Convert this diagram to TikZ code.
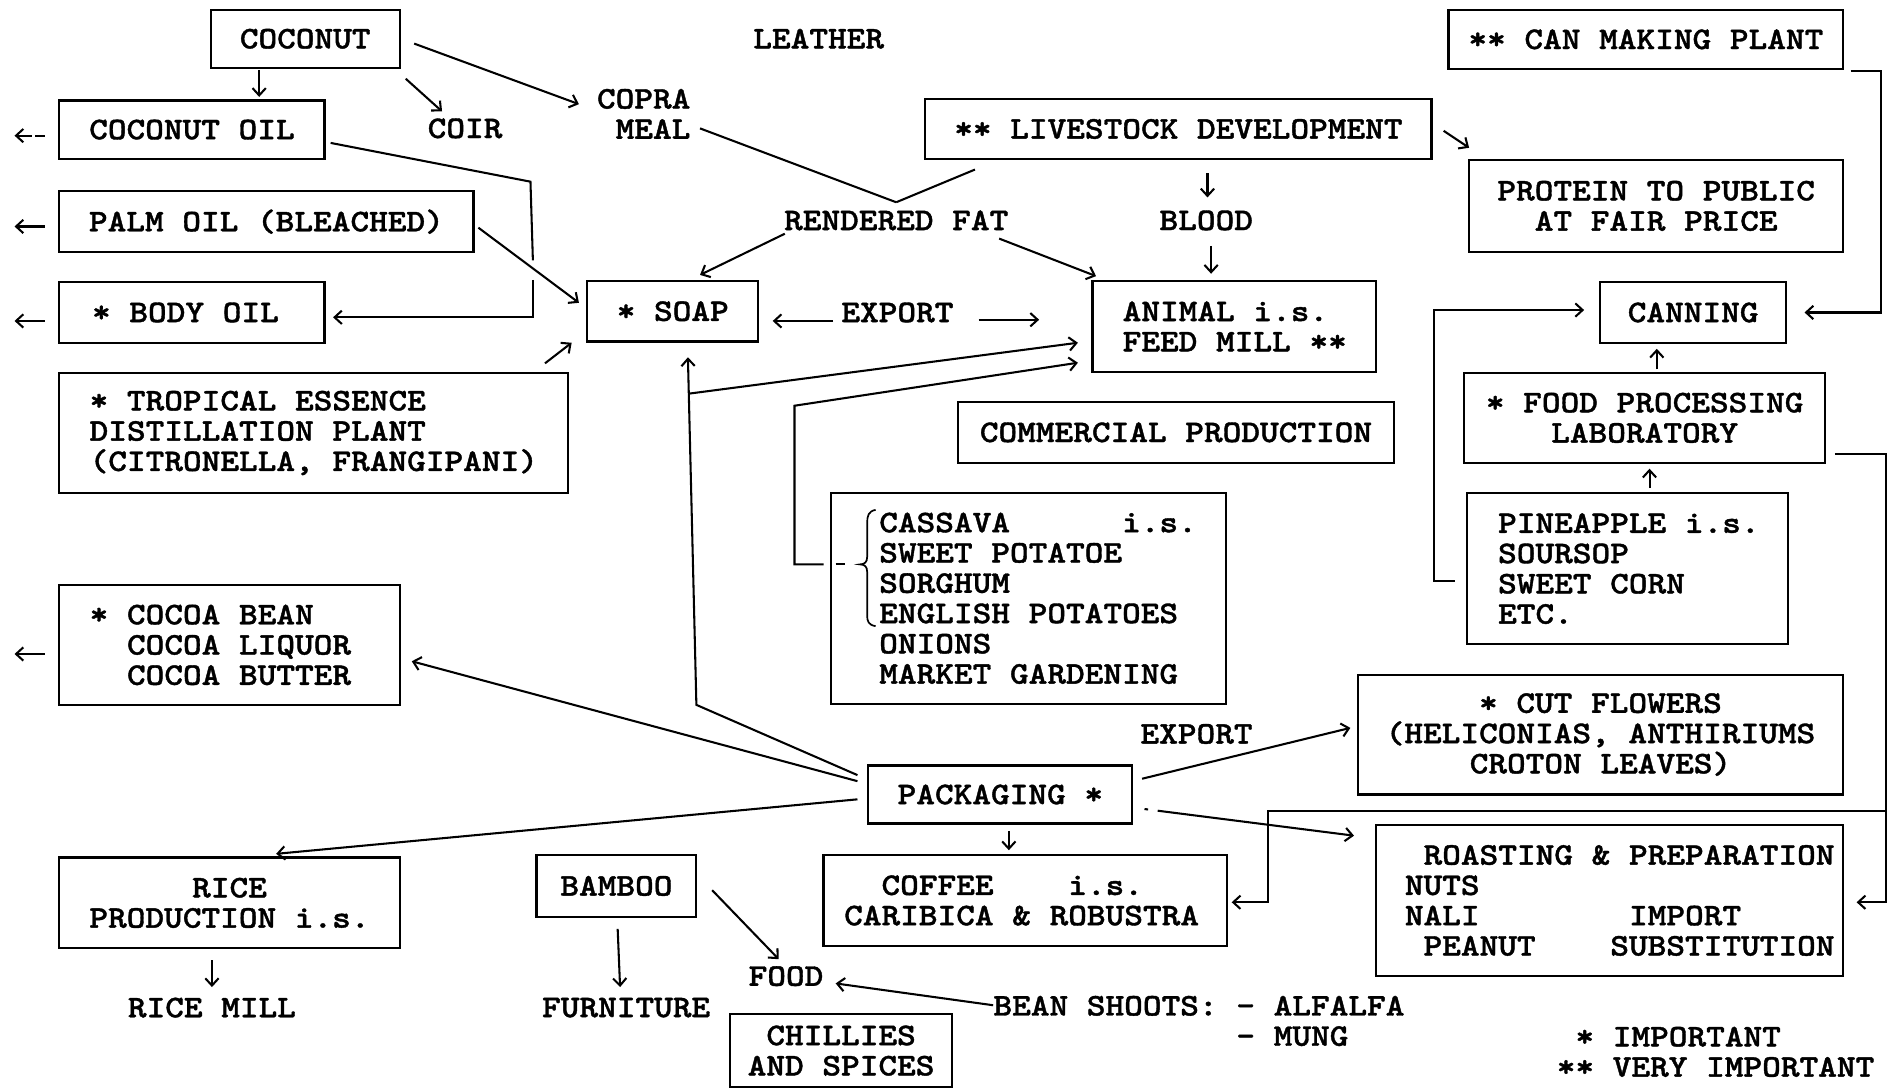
\documentclass[tikz,border=0pt]{standalone}
\usepackage{fontspec}
\newfontfamily\tyfont{lmmonolt10-bold.otf}[FakeStretch=1.13, FakeBold=1.2]
\newcommand\tline[1]{\mbox{\spaceskip=0pt\relax #1}}
\usetikzlibrary{arrows.meta,calc}
\begin{document}
\begin{tikzpicture}[x=1pt,y=-1pt,
  every node/.style={font=\tyfont\fontsize{26}{25}\selectfont\frenchspacing, inner sep=0pt},
  box/.style n args={2}{draw, line width=1.8pt, rectangle, minimum width=#1pt, minimum height=#2pt},
  lbox/.style={align=left, text width=#1pt},
  ln/.style={line width=1.7pt},
  arr/.style={line width=1.7pt, -{Straight Barb[length=6pt,width=11pt,line width=1.7pt]}}]
\useasboundingbox (0,0) rectangle (1568,898);
% boxes
\node[box={156}{48}] (coconut) at (252,32) {COCONUT};
\node[box={219}{48}] (coconutoil) at (158.5,107) {COCONUT OIL};
\node[box={342}{50}] (palmoil) at (220,183) {PALM OIL (BLEACHED)};
\node[box={219}{50},lbox=165] (bodyoil) at (158.5,258) {\tline{* BODY OIL}};
\node[box={420}{99},lbox=370] (tropical) at (259,357.5) {\tline{* TROPICAL ESSENCE}\\\tline{DISTILLATION PLANT}\\\tline{(CITRONELLA, FRANGIPANI)}};
\node[box={141}{50}] (soap) at (555.5,257) {* SOAP};
\node[box={234}{75},lbox=184] (animal) at (1019,269.5) {\tline{ANIMAL i.s.}\\\tline{FEED MILL **}};
\node[box={418}{49}] (livestock) at (973,106.5) {** LIVESTOCK DEVELOPMENT};
\node[box={326}{49}] (canmaking) at (1359,32.5) {** CAN MAKING PLANT};
\node[box={309}{76},align=center] (protein) at (1367.5,170) {PROTEIN TO PUBLIC\\AT FAIR PRICE};
\node[box={154}{50}] (canning) at (1398,258) {CANNING};
\node[box={298}{74},align=center] (foodproc) at (1358,345) {* FOOD PROCESSING\\LABORATORY};
\node[box={265}{125},lbox=213] (pineapple) at (1343.5,469.5) {\tline{PINEAPPLE i.s.}\\\tline{SOURSOP}\\\tline{SWEET CORN}\\\tline{ETC.}};
\node[box={360}{50}] (commercial) at (971,357) {COMMERCIAL PRODUCTION};
\node[box={326}{174},lbox=246] (cassava) at (849,494) {\tline{CASSAVA\hphantom{MMMMMM}i.s.}\\\tline{SWEET POTATOE}\\\tline{SORGHUM}\\\tline{ENGLISH POTATOES}\\\tline{ONIONS}\\\tline{MARKET GARDENING}};
\node[box={281}{99},lbox=231] (cocoa) at (189.5,532.5) {\tline{* COCOA BEAN}\\\tline{\hphantom{MM}COCOA LIQUOR}\\\tline{\hphantom{MM}COCOA BUTTER}};
\node[box={218}{48}] (packaging) at (826,656) {PACKAGING *};
\node[box={401}{99},align=center] (cutflowers) at (1321.5,606.5) {* CUT FLOWERS\\(HELICONIAS, ANTHIRIUMS\\CROTON LEAVES)};
\node[box={386}{125},lbox=338] (roasting) at (1329,743.5) {\tline{\hphantom{M}ROASTING \& PREPARATION}\\\tline{NUTS}\\\tline{NALI\hphantom{MMMMMMMM}IMPORT}\\\tline{\hphantom{M}PEANUT\hphantom{MMMM}SUBSTITUTION}};
\node[box={333}{75},lbox=299] (coffee) at (846.5,743.5) {\tline{\hphantom{MM}COFFEE\hphantom{MMMM}i.s.}\\\tline{CARIBICA \& ROBUSTRA}};
\node[box={281}{75},align=center] (rice) at (189.5,745.5) {RICE\\PRODUCTION i.s.};
\node[box={132}{51}] (bamboo) at (509,731.5) {BAMBOO};
\node[box={183}{61},align=center] (chillies) at (694.5,867.5) {CHILLIES\\AND SPICES};
% plain texts
\node (leather) at (676,32) {LEATHER};
\node (coir) at (384,106) {COIR};
\node[align=right] (copra) at (531.5,94) {COPRA\\MEAL};
\node (rendered) at (740,182) {RENDERED FAT};
\node (blood) at (996,182) {BLOOD};
\node (export1) at (741,258) {EXPORT};
\node (export2) at (988,606) {EXPORT};
\node (ricemill) at (175,832) {RICE MILL};
\node (furniture) at (517,832) {FURNITURE};
\node (food) at (649,806) {FOOD};
\node[align=left] (beans) at (990,843) {BEAN SHOOTS: - ALFALFA\\\hphantom{MMMMMMMMMMMMM}- MUNG};
\node[align=left] (legend) at (1416.5,868.5) {\hphantom{M}* IMPORTANT\\** VERY IMPORTANT};
% free ends
\coordinate (o1) at (12,112);
\coordinate (o2) at (12,187);
\coordinate (o3) at (12,265);
\coordinate (o4) at (12,540);
\coordinate (rf) at ($(rendered)+(0,-15)$);
\coordinate (vr) at ($(roasting)+(228,-73.5)$);
\coordinate (pv) at ($(soap)+(19.5,325)$);
% connectors
\draw[arr] ($(coconut)+(-38,26)$) -- ($(coconutoil)+(55.5,-27)$);
\draw[arr] ($(coconut)+(83,33)$) -- ($(coir)+(-19,-14)$);
\draw[arr] ($(coconut)+(90,4)$) -- ($(copra)+(-53.5,-8)$);
\draw[ln] ($(copra)+(46.5,12)$) -- (rf);
\draw[ln] ($(livestock)+(-168,33.5)$) -- (rf);
\draw[arr] ($(rendered)+(-92,11)$) -- ($(soap)+(22.5,-30)$);
\draw[arr] ($(rendered)+(85,15)$) -- ($(animal)+(-114,-41.5)$);
\draw[arr] ($(livestock)+(24,36.5)$) -- ($(blood)+(1,-19)$);
\draw[arr] ($(blood)+(4,21)$) -- ($(animal)+(-19,-43.5)$);
\draw[arr] ($(livestock)+(219,1.5)$) -- ($(protein)+(-154.5,-48)$);
\draw[arr] ($(canmaking)+(169,26.5)$) -| ($(canning)+(155,0)$) -- ($(canning)+(92,0)$);
\draw[arr] ($(foodproc)+(10,-40)$) -- ($(canning)+(-30,30)$);
\draw[arr] ($(pineapple)+(18.5,-66.5)$) -- ($(foodproc)+(4,42)$);
\draw[arr] ($(pineapple)+(-142.5,10.5)$) -- ++(-17,0) |- ($(canning)+(-90,-2)$);
\draw[arr] ($(foodproc)+(157,30)$) -| ($(roasting)+(228,1.5)$) -- ($(roasting)+(204,1.5)$);
\draw[arr] (vr) -| ($(coffee)+(200.5,1.5)$) -- ($(coffee)+(170.5,1.5)$);
\draw[arr] ($(packaging)+(7,30)$) -- ($(coffee)+(-13.5,-41.5)$);
\draw[arr] ($(packaging)+(117,-13)$) -- ($(cutflowers)+(-206.5,-5.5)$);
\draw[arr, dash pattern=on 3pt off 8pt on 400pt] ($(packaging)+(119,12)$) -- ($(roasting)+(-211,-53.5)$);
\draw[arr] ($(packaging)+(-118,-11)$) -- ($(cocoa)+(150.5,13.5)$);
\draw[arr] ($(packaging)+(-118,4)$) -- ($(rice)+(38.5,-40.5)$);
\draw[arr] ($(packaging)+(-118,-16)$) -- (pv) -- ($(soap)+(12.5,38)$);
\draw[arr] ($(soap)+(13.5,68)$) -- ($(animal)+(-129,13.5)$);
\draw[arr] ($(cassava)+(-169,-28)$) -- ++(-24,0) -- ++(0,-131) -- ($(animal)+(-129,30)$);
\draw[ln] ($(cassava)+(-159,-28)$) -- ++(8,0);
\draw[ln] ($(coconutoil)+(114.5,11)$) -- ($(bodyoil)+(279.5,-108)$) -- ($(bodyoil)+(281.5,-43)$);
\draw[arr] ($(bodyoil)+(281.5,-27)$) -- ($(bodyoil)+(281.5,4)$) -- ($(bodyoil)+(116.5,4)$);
\draw[arr] ($(palmoil)+(175,5)$) -- ($(soap)+(-77.5,-7)$);
\draw[arr] ($(tropical)+(191,-57.5)$) -- ($(soap)+(-83.5,26)$);
\draw[arr] ($(export1)+(-53,7)$) -- ($(soap)+(82.5,8)$);
\draw[arr] ($(export1)+(67,6)$) -- ($(animal)+(-161,-5.5)$);
\draw[arr] ($(bamboo)+(1,35.5)$) -- ($(furniture)+(-5,-17)$);
\draw[arr] ($(bamboo)+(79,3.5)$) -- ($(food)+(-6,-14)$);
\draw[arr] ($(beans)+(-170,-13)$) -- ($(food)+(41,6)$);
\draw[arr] ($(rice)+(-14.5,47.5)$) -- ($(ricemill)+(0,-17)$);
\draw[arr, dash pattern=on 8pt off 3pt on 40pt] ($(coconutoil.west)+(-11,5)$) -- (o1);
\draw[arr] ($(palmoil.west)+(-11,4)$) -- (o2);
\draw[arr] ($(bodyoil.west)+(-11,7)$) -- (o3);
\draw[arr] ($(cocoa.west)+(-11,7.5)$) -- (o4);
% brace
\begin{scope}[shift={(cassava)}]
\draw[line width=1.4pt] (-126,-73) .. controls (-132,-72) and (-133,-68) .. (-133,-62) -- (-133,-34) .. controls (-133,-30) and (-135,-28) .. (-139,-28) .. controls (-135,-28) and (-133,-26) .. (-133,-22) -- (-133,14) .. controls (-133,19) and (-132,22) .. (-126,23);
\end{scope}
\end{tikzpicture}
\end{document}
